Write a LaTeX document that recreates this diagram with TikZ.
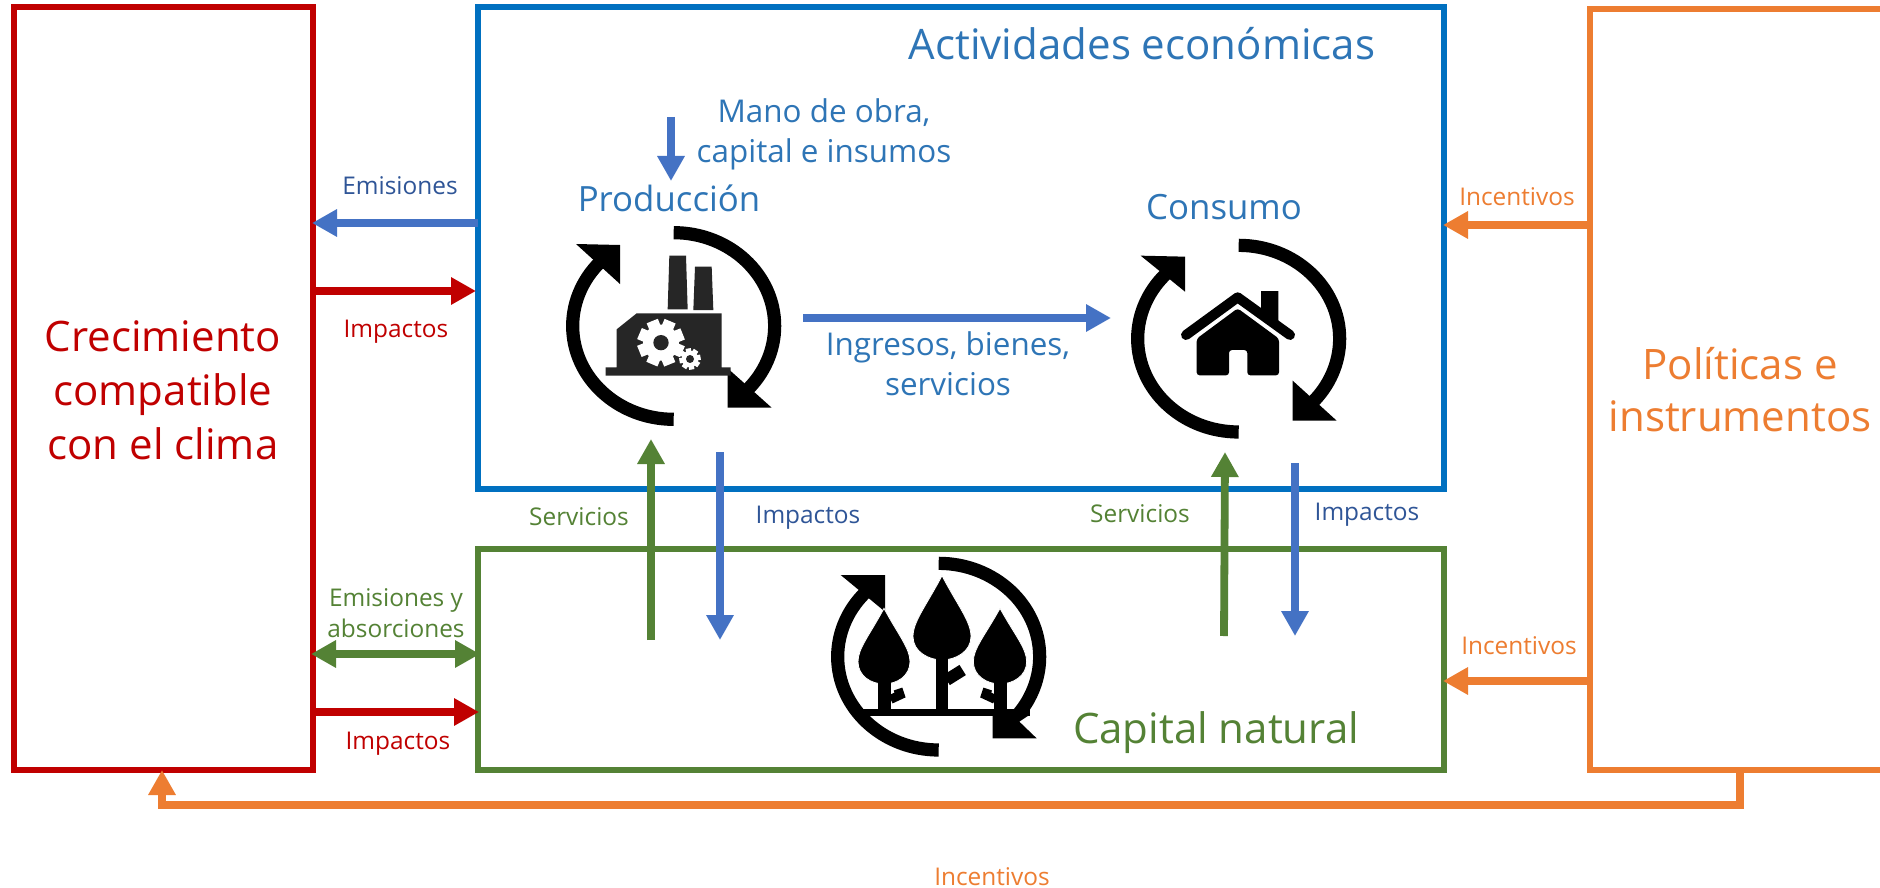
\documentclass[tikz,border=0pt]{standalone}
\usepackage{fontspec}
\setmainfont{Open Sans}
\usetikzlibrary{arrows.meta,calc}
\definecolor{cred}{HTML}{C00000}
\definecolor{cblue}{HTML}{0070C0}
\definecolor{cgreen}{HTML}{548235}
\definecolor{corange}{HTML}{ED7D31}
\definecolor{carrow}{HTML}{4472C4}
\definecolor{ctext}{HTML}{2E75B6}
\definecolor{cdark}{HTML}{2F5597}
\definecolor{cfac}{HTML}{262626}
\tikzset{
  box/.style={draw,line width=2.6pt,rectangle,outer sep=0pt,inner sep=0pt,anchor=north west},
  arr/.style={line width=3.9pt,shorten >=-0.5pt,-{Triangle[length=12.5pt,width=13pt]}},
  dbl/.style={line width=3.9pt,shorten >=-1pt,shorten <=-1pt,{Triangle[length=12.5pt,width=13pt]}-{Triangle[length=12.5pt,width=13pt]}},
  lab/.style={font=\fontsize{12.2pt}{13pt}\selectfont,inner sep=0pt,align=center},
  mid/.style={font=\fontsize{15.7pt}{20pt}\selectfont,inner sep=0pt,align=center,text=ctext},
  head/.style={font=\fontsize{17.4pt}{20pt}\selectfont,inner sep=0pt,align=center,text=ctext},
  big/.style={font=\fontsize{21pt}{26pt}\selectfont,inner sep=0pt,align=center},
}
\newcommand{\ringicon}[2]{%
  \draw[line width=6.6pt] ($(#1,#2)+(0,-280)$) arc[start angle=-90,end angle=44,x radius=303,y radius=280];
  \draw[line width=6.6pt] ($(#1,#2)+(0,280)$) arc[start angle=90,end angle=226,x radius=303,y radius=280];
}
\begin{document}
\begin{tikzpicture}[x=0.5pt,y=-0.5pt]
\useasboundingbox (0,0) rectangle (1880,888);
\fill[white] (0,0) rectangle (1880,888);

% boxes
\node[box,draw=cred,minimum width=149.5pt,minimum height=381.5pt] (clima) at (14,7) {};
\node[big,text=cred,font=\fontsize{21pt}{27pt}\selectfont] (climatxt) at (163,390) {Crecimiento\\compatible\\con el clima};
\node[box,draw=cblue,minimum width=483pt,minimum height=241pt] (act) at (478,7) {};
\node[box,draw=cgreen,minimum width=483pt,minimum height=110.5pt] (nat) at (478,549) {};
\coordinate (polNW) at (1590,9);
\coordinate (polSW) at (1590,770);
\draw[corange,line width=2.6pt] (1880,9) -- (polNW) -- (polSW) -- (1880,770);
\node[big,text=corange] (poltxt) at (1740,390) {Políticas e\\instrumentos};

% titles
\node[big,text=ctext] (t1) at (1142,44) {Actividades económicas};
\node[big,text=cgreen] (t2) at (1216,733) {Capital natural};
\node[mid] (mano) at (824,134) {Mano de obra,\\capital e insumos};
\node[head] (prod) at (669,198) {Producción};
\node[head] (cons) at (1224,207) {Consumo};
\node[mid] (ingr) at (948,364) {Ingresos, bienes,\\servicios};

% labels
\node[lab,text=cdark] (l1) at (400,186) {Emisiones};
\node[lab,text=cred] (l2) at (396,332) {Impactos};
\node[lab,text=cgreen] (l3) at (579,517) {Servicios};
\node[lab,text=cdark] (l4) at (808,518) {Impactos};
\node[lab,text=cgreen] (l5) at (1140,514) {Servicios};
\node[lab,text=cdark] (l6) at (1367,515) {Impactos};
\node[lab,text=corange] (l7) at (1517,197) {Incentivos};
\node[lab,text=corange] (l8) at (1519,646) {Incentivos};
\node[lab,text=corange] (l9) at (992,877) {Incentivos};
\node[lab,text=cgreen,font=\fontsize{12.2pt}{15.5pt}\selectfont] (l10) at (396,613) {Emisiones y\\absorciones};
\node[lab,text=cred] (l11) at (398,744) {Impactos};

% connector ends
\coordinate (manoA) at (671,117);
\coordinate (manoB) at (671,180);
\coordinate (prodE) at (803,318);
\coordinate (consW) at (1110,318);
\coordinate (s1a) at (651,640);
\coordinate (s1b) at (651,440);
\coordinate (i1a) at (720,452);
\coordinate (i1b) at (720,639);
\coordinate (s2a) at (1224,636);
\coordinate (s2b) at (1225,453);
\coordinate (i2a) at (1295,463);
\coordinate (i2b) at (1295,635);
\coordinate (b1) at (1740,770);
\coordinate (b2) at (1740,805);
\coordinate (b3) at (162,805);
\coordinate (b4) at (162,771);

\draw[arr,carrow] (act.west |- 0,223) -- (clima.east |- 0,223);
\draw[arr,cred,shorten >=1pt] (clima.east |- 0,291) -- (act.west |- 0,291);
\draw[dbl,cgreen] (clima.east |- 0,654) -- (nat.west |- 0,654);
\draw[arr,cred] (clima.east |- 0,712) -- (nat.west |- 0,712);
\draw[arr,carrow] (manoA) -- (manoB);
\draw[arr,carrow] (prodE) -- (consW);
\draw[arr,cgreen] (s1a) -- (s1b);
\draw[arr,carrow] (i1a) -- (i1b);
\draw[arr,cgreen] (s2a) -- (s2b);
\draw[arr,carrow] (i2a) -- (i2b);
\draw[arr,corange] (polNW |- 0,225) -- (act.east |- 0,225);
\draw[arr,corange] (polNW |- 0,681) -- (nat.east |- 0,681);
\draw[arr,corange] (b1) -- (b2) -- (b3) -- (b4);

% factory icon
\begin{scope}[shift={(540,220)},scale=1/3]
  \ringicon{401}{318}
  \fill (240,75) -- (108,72) -- (240,192) -- cycle;
  \fill (563,563) -- (695,563) -- (563,445) -- cycle;
  \fill[cfac] (388,107) -- (438,107) -- (443,268) -- (383,268) -- cycle;
  \fill[cfac] (465,140) -- (515,140) -- (520,270) -- (460,270) -- cycle;
  \fill[cfac] (290,280) -- (545,280) -- (545,442) -- (572,442) -- (572,467) -- (197,467) -- (197,442) -- (230,442) -- (230,328) -- cycle;
  \fill[white] (363,368) circle[radius=54];
  \foreach \a in {0,45,...,315}
    \fill[white,rotate around={\a+22:(363,368)}] (345,298) rectangle (381,330);
  \fill[cfac] (363,368) circle[radius=23];
  \fill[white] (450,417) circle[radius=25];
  \foreach \a in {0,45,...,315}
    \fill[white,rotate around={\a+10:(450,417)}] (442,385) rectangle (458,400);
  \fill[cfac] (450,417) circle[radius=12];
\end{scope}

% house icon
\begin{scope}[shift={(1110,220)},scale=1/3]
  \ringicon{386}{356}
  \fill (225,110) -- (92,107) -- (225,215) -- cycle;
  \fill (548,602) -- (680,602) -- (548,482) -- cycle;
  \fill (453,213) -- (505,213) -- (505,320) -- (453,280) -- cycle;
  \draw[line width=5pt,line cap=round,line join=round] (228,345) -- (383,232) -- (540,345);
  \fill[rounded corners=1.5pt] (260,356) -- (383,265) -- (507,356) -- (507,466) -- (412,466) -- (412,390) -- (357,390) -- (357,466) -- (260,466) -- cycle;
\end{scope}

% forest icon
\begin{scope}[shift={(810,540)},scale=1/3]
  \draw[line width=6.6pt] (386,70) arc[start angle=-90,end angle=38,x radius=303,y radius=280];
  \draw[line width=6.6pt] (386,630) arc[start angle=90,end angle=226,x radius=303,y radius=280];
  \fill (225,105) -- (92,105) -- (225,215) -- cycle;
  \fill (548,527) -- (548,595) -- (680,595) -- (628,545) -- (655,527) -- cycle;
  % trees
  \foreach \tx/\ty/\tw/\tc/\tb in {222/205/78/365/432,396/107/87/290/360,570/205/80/365/432}{
    \pgfmathsetmacro{\cax}{\tx-0.55*\tw}
    \pgfmathsetmacro{\cay}{\ty+0.5*(\tc-\ty)}
    \pgfmathsetmacro{\cbx}{\tx-\tw}
    \pgfmathsetmacro{\cby}{\tc-0.25*(\tc-\ty)}
    \pgfmathsetmacro{\ccx}{\tx+0.55*\tw}
    \pgfmathsetmacro{\cdx}{\tx+\tw}
    \pgfmathsetmacro{\cey}{\tb-25}
    \pgfmathsetmacro{\cfx}{\tx-40}
    \pgfmathsetmacro{\cgx}{\tx+40}
    \fill[draw=white,line width=0.4pt] (\tx,\ty) .. controls (\cax,\cay) and (\cbx,\cby) .. (\cbx,\tc)
      .. controls (\cbx,\cey) and (\cfx,\tb) .. (\tx,\tb)
      .. controls (\cgx,\tb) and (\cdx,\cey) .. (\cdx,\tc)
      .. controls (\cdx,\cby) and (\ccx,\cay) .. (\tx,\ty) -- cycle;
  }
  \fill (205,425) rectangle (242,510);
  \fill (378,350) rectangle (415,510);
  \fill (552,425) rectangle (590,510);
  \draw[line width=4.5pt] (242,478) -- (270,465) -- (264,447);
  \draw[line width=6pt] (410,420) -- (458,390);
  \draw[line width=4.5pt] (555,478) -- (527,465) -- (533,447);
  \fill (150,507) rectangle (660,527);
\end{scope}
\end{tikzpicture}
\end{document}
